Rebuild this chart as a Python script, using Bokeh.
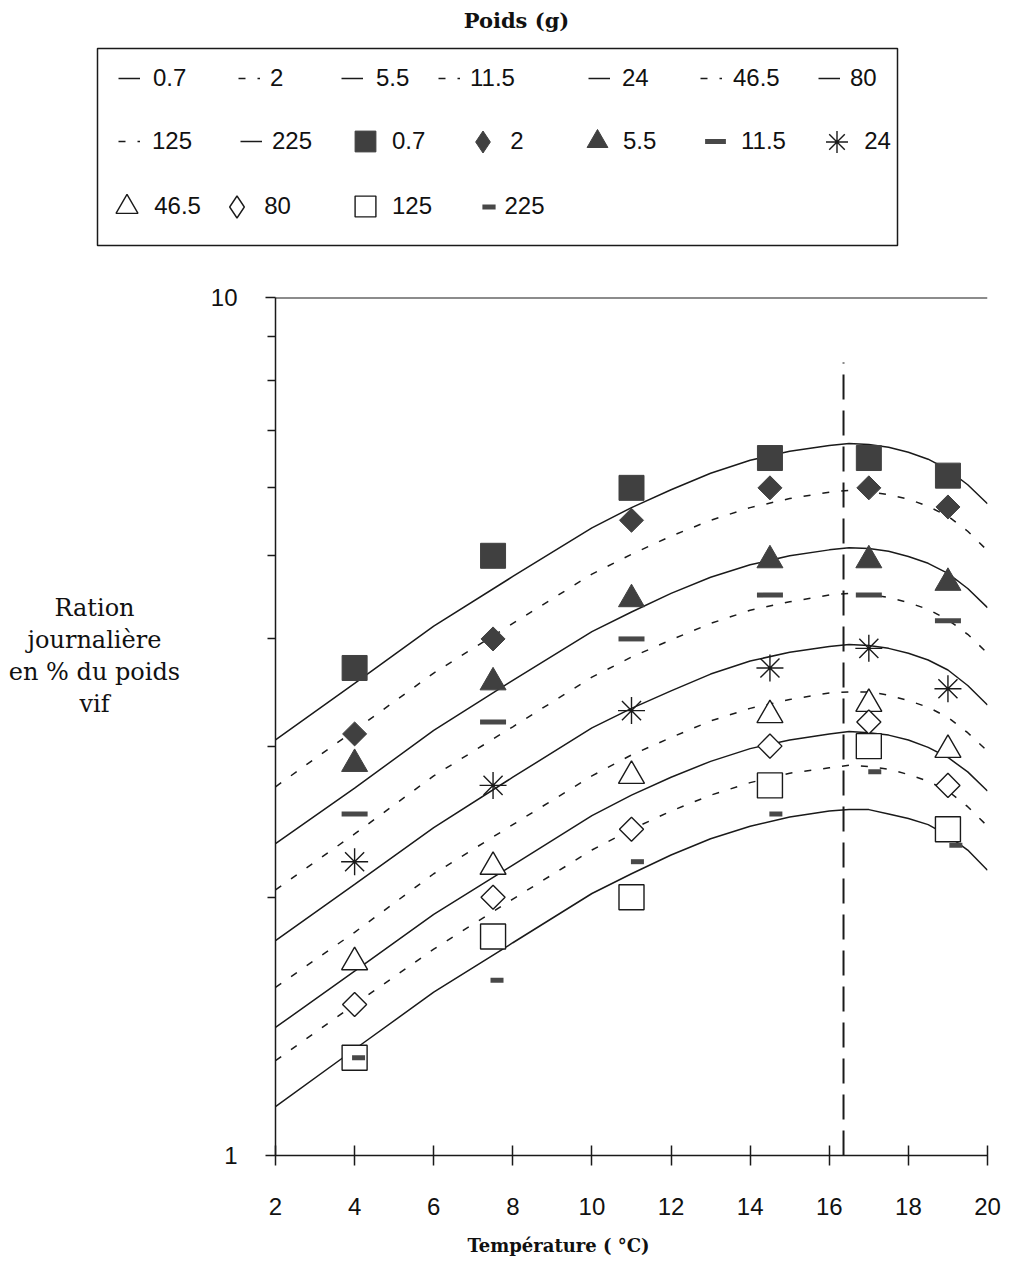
import numpy as np
from bokeh.plotting import figure
from bokeh.layouts import column, row
from bokeh.models import (Range1d, FixedTicker, Legend, LegendItem, Label, Span,
                          BoxAnnotation, PrintfTickFormatter)
from bokeh.embed import file_html
from bokeh.resources import INLINE

# ---------------- data ----------------
weights = ["0.7", "2", "5.5", "11.5", "24", "46.5", "80", "125", "225"]

# fitted curves: ration (% body weight) vs temperature
curve_temp = [2, 4, 6, 8, 10, 11, 12, 13, 14, 15, 16, 16.5, 17, 17.5, 18, 18.5, 19, 19.5, 20]
curve_0_7 = [3.05, 3.55, 4.14, 4.73, 5.39, 5.69, 5.97, 6.24, 6.46, 6.62, 6.72, 6.76, 6.74, 6.69, 6.60, 6.48, 6.30, 6.05, 5.75]
curve_2 = [2.69, 3.13, 3.65, 4.17, 4.76, 5.02, 5.27, 5.50, 5.69, 5.83, 5.93, 5.96, 5.94, 5.89, 5.82, 5.71, 5.56, 5.34, 5.07]
curve_5_5 = [2.31, 2.68, 3.13, 3.58, 4.08, 4.30, 4.52, 4.72, 4.88, 5.00, 5.08, 5.11, 5.10, 5.06, 4.99, 4.90, 4.77, 4.58, 4.35]
curve_11_5 = [2.04, 2.37, 2.77, 3.16, 3.61, 3.81, 3.99, 4.17, 4.32, 4.42, 4.50, 4.52, 4.51, 4.47, 4.41, 4.33, 4.21, 4.05, 3.85]
curve_24 = [1.78, 2.07, 2.41, 2.76, 3.15, 3.32, 3.48, 3.64, 3.77, 3.86, 3.92, 3.94, 3.93, 3.90, 3.85, 3.78, 3.68, 3.53, 3.35]
curve_46_5 = [1.57, 1.82, 2.13, 2.43, 2.77, 2.93, 3.07, 3.21, 3.32, 3.40, 3.46, 3.47, 3.47, 3.44, 3.39, 3.33, 3.24, 3.11, 2.96]
curve_80 = [1.41, 1.64, 1.91, 2.18, 2.49, 2.63, 2.76, 2.88, 2.98, 3.05, 3.10, 3.12, 3.11, 3.09, 3.05, 2.99, 2.91, 2.80, 2.66]
curve_125 = [1.29, 1.50, 1.74, 1.99, 2.27, 2.40, 2.52, 2.63, 2.72, 2.79, 2.83, 2.85, 2.84, 2.82, 2.78, 2.73, 2.66, 2.55, 2.42]
curve_225 = [1.14, 1.33, 1.55, 1.77, 2.02, 2.13, 2.24, 2.34, 2.42, 2.48, 2.52, 2.53, 2.53, 2.50, 2.47, 2.43, 2.36, 2.27, 2.15]

# observed rations
obs_temp = [4, 7.5, 11, 14.5, 17, 19]
obs_temp_225 = [4.1, 7.6, 11.15, 14.65, 17.15, 19.2]
obs_0_7 = [3.7, 5.0, 6.0, 6.5, 6.5, 6.2]
obs_2 = [3.1, 4.0, 5.5, 6.0, 6.0, 5.7]
obs_5_5 = [2.86, 3.56, 4.45, 4.94, 4.94, 4.65]
obs_11_5 = [2.5, 3.2, 4.0, 4.5, 4.5, 4.2]
obs_24 = [2.2, 2.7, 3.3, 3.7, 3.9, 3.5]
obs_46_5 = [1.68, 2.17, 2.77, 3.26, 3.36, 2.97]
obs_80 = [1.5, 2.0, 2.4, 3.0, 3.2, 2.7]
obs_125 = [1.3, 1.8, 2.0, 2.7, 3.0, 2.4]
obs_225 = [1.3, 1.6, 2.2, 2.5, 2.8, 2.3]

# optimum temperature marker
t_optimum = [16.36]
optimum_bottom = [1.0]
optimum_top = [8.4]

x_ticks = [2, 4, 6, 8, 10, 12, 14, 16, 18, 20]
y_major_ticks = [1, 10]
y_minor_ticks = [2, 3, 4, 5, 6, 7, 8, 9]

title_text = "Poids (g)"
x_label_text = "Température ( °C)"
y_label_lines = ["Ration", "journalière", "en % du poids", "vif"]

INK = "#1a1a1a"
DARK = "#404040"
BAR = "#484848"
TXT = "#111111"

# page geometry (px)
PAGE_W = 1008
TOP_H = 258          # title + legend band
YLAB_W = 185         # band holding the y-axis title
MAIN_H = 967
XLAB_H = 40

def blank(width, height):
    f = figure(width=width, height=height, x_range=Range1d(0, 1), y_range=Range1d(0, 1),
               output_backend="svg", toolbar_location=None, min_border=0,
               x_axis_location=None, y_axis_location=None)
    f.outline_line_color = None
    f.grid.visible = False
    f.border_fill_color = "white"
    f.background_fill_color = "white"
    return f

# ---------------- main chart ----------------
p = figure(width=PAGE_W - YLAB_W, height=MAIN_H, x_range=Range1d(2, 20), y_range=Range1d(1, 10),
           y_axis_type="log", output_backend="svg", toolbar_location=None,
           min_border_left=90, min_border_right=21, min_border_top=39, min_border_bottom=70)
p.outline_line_color = None
p.grid.visible = False
p.background_fill_color = "white"
p.border_fill_color = "white"

xa = p.xaxis[0]
xa.ticker = FixedTicker(ticks=x_ticks)
xa.major_tick_in = 10
xa.major_tick_out = 10
xa.minor_tick_in = 0
xa.minor_tick_out = 0
xa.axis_line_width = 1.5
xa.axis_line_color = INK
xa.major_tick_line_color = INK
xa.major_tick_line_width = 1.5
xa.major_label_text_font = "Liberation Sans"
xa.major_label_text_font_size = "24px"
xa.major_label_text_color = TXT
xa.major_label_standoff = 32

ya = p.yaxis[0]
ya.ticker = FixedTicker(ticks=y_major_ticks, minor_ticks=y_minor_ticks)
ya.formatter = PrintfTickFormatter(format="%d")
ya.major_tick_in = 0
ya.major_tick_out = 10
ya.minor_tick_in = 0
ya.minor_tick_out = 8
ya.axis_line_width = 1.5
ya.axis_line_color = INK
ya.major_tick_line_color = INK
ya.major_tick_line_width = 1.5
ya.minor_tick_line_color = INK
ya.minor_tick_line_width = 1.5
ya.major_label_text_font = "Liberation Sans"
ya.major_label_text_font_size = "24px"
ya.major_label_text_color = TXT
ya.major_label_standoff = 28

# top border line at 10
p.add_layout(Span(location=10, dimension="width", line_color=INK, line_width=2))

# optimum temperature dashed line
p.segment(x0=t_optimum, y0=optimum_bottom, x1=t_optimum, y1=optimum_top,
          line_color=INK, line_width=2, line_dash="25 11")

curves = [curve_0_7, curve_2, curve_5_5, curve_11_5, curve_24, curve_46_5, curve_80, curve_125, curve_225]
observations = [obs_0_7, obs_2, obs_5_5, obs_11_5, obs_24, obs_46_5, obs_80, obs_125, obs_225]
obs_temps = [obs_temp] * 8 + [obs_temp_225]

line_styles = [dict(line_color=INK, line_width=1.5, line_dash=("solid" if i % 2 == 0 else "7 12"))
               for i in range(9)]
marker_styles = [
    dict(marker="square", size=25, fill_color=DARK, line_color=DARK),
    dict(marker="square", angle=np.pi / 4, size=17, fill_color=DARK, line_color=DARK),
    dict(marker="triangle", size=26, fill_color=DARK, line_color=DARK),
    dict(marker="dash", size=26, line_color=BAR, line_width=5),
    dict(marker="asterisk", size=27, line_color=INK, line_width=1.4),
    dict(marker="triangle", size=26, fill_color="white", line_color=INK, line_width=1.4),
    dict(marker="square", angle=np.pi / 4, size=17, fill_color="white", line_color=INK, line_width=1.4),
    dict(marker="square", size=25, fill_color="white", line_color=INK, line_width=1.4),
    dict(marker="dash", size=13, line_color=BAR, line_width=5),
]
# legend keys: the legend does not rotate markers, so the diamonds use the diamond shape there
key_styles = [dict(s) for s in marker_styles]
key_styles[1] = dict(marker="diamond", size=25, fill_color=DARK, line_color=DARK)
key_styles[6] = dict(marker="diamond", size=25, fill_color="white", line_color=INK, line_width=1.4)

for i in range(9):
    p.line(curve_temp, curves[i], **line_styles[i])
for i in range(9):
    p.scatter(obs_temps[i], observations[i], **marker_styles[i])

# ---------------- title + legend band ----------------
top = blank(PAGE_W, TOP_H)
# hidden copies of the series: they only supply the legend key glyphs
key_lines = [top.line(curve_temp, curves[i], visible=False, **line_styles[i]) for i in range(9)]
key_marks = [top.scatter(obs_temps[i], observations[i], visible=False, **key_styles[i]) for i in range(9)]

common = dict(orientation="horizontal", spacing=0, padding=0, margin=0,
              border_line_color=None, background_fill_alpha=0, inactive_fill_alpha=0,
              label_text_font="Liberation Sans", label_text_font_size="24px",
              label_text_color=TXT)

def key(renderer, label, box_left, center_y, gw, gh, label_left):
    standoff = max(0, int(round(label_left - (box_left + gw))))
    return Legend(items=[LegendItem(label=label, renderers=[renderer])],
                  location=(box_left, TOP_H - (center_y + gh / 2)),
                  glyph_width=gw, glyph_height=gh, label_height=gh,
                  label_standoff=standoff, **common)

# line keys: (series index, glyph left, row centre, label left)
line_keys = [(0, 118, 78, 153), (1, 238, 78, 270), (2, 341, 78, 376), (3, 438, 78, 470),
             (4, 588, 78, 622), (5, 700, 78, 733), (6, 818, 78, 850),
             (7, 118, 141, 152), (8, 240, 141, 272)]
for i, gx, cy, lx in line_keys:
    top.add_layout(key(key_lines[i], weights[i], gx, cy, 22, 40, lx), "center")

# marker keys: (series index, marker centre x, row centre, glyph box, label left)
marker_keys = [(0, 365, 141, 52, 392), (1, 488, 141, 55, 505), (2, 600, 141, 52, 620),
               (3, 718, 141, 52, 738), (4, 839, 141, 55, 862),
               (5, 129, 206, 55, 152), (6, 239, 206, 55, 262), (7, 365, 206, 52, 392),
               (8, 488, 206, 33, 505)]
for i, cx, cy, g, lx in marker_keys:
    over = (cx + g / 2) - lx          # the label cannot start inside the key box:
    if over > 0:                      # split the difference between key and label
        cx -= over / 2
    top.add_layout(key(key_marks[i], weights[i], cx - g / 2, cy, g, g, lx), "center")

top.add_layout(BoxAnnotation(left=97, right=897, top=TOP_H - 48, bottom=TOP_H - 245,
                             left_units="screen", right_units="screen",
                             top_units="screen", bottom_units="screen",
                             fill_alpha=0, line_color=INK, line_width=1.5, line_alpha=1))
top.add_layout(Label(x=516, y=TOP_H - 20, x_units="screen", y_units="screen",
                     text=title_text, text_font="DejaVu Serif", text_font_style="bold",
                     text_font_size="21px", text_align="center", text_baseline="middle",
                     text_color=TXT))

# ---------------- y-axis title band ----------------
ylab = blank(YLAB_W, MAIN_H)
for k, line in enumerate(y_label_lines):
    ylab.add_layout(Label(x=94, y=(TOP_H + MAIN_H) - (677 + 32 * k), x_units="screen", y_units="screen",
                          text=line, text_font="DejaVu Serif", text_font_size="24px",
                          text_align="center", text_baseline="middle", text_color=TXT))

# ---------------- x-axis title band ----------------
xlab = blank(PAGE_W, XLAB_H)
xlab.add_layout(Label(x=558, y=(TOP_H + MAIN_H + XLAB_H) - 1245, x_units="screen", y_units="screen",
                      text=x_label_text, text_font="DejaVu Serif", text_font_style="bold",
                      text_font_size="18px", text_align="center", text_baseline="middle",
                      text_color=TXT))

layout = column(top, row(ylab, p, spacing=0), xlab, spacing=0)
open("out.html", "w").write(file_html(layout, INLINE))
